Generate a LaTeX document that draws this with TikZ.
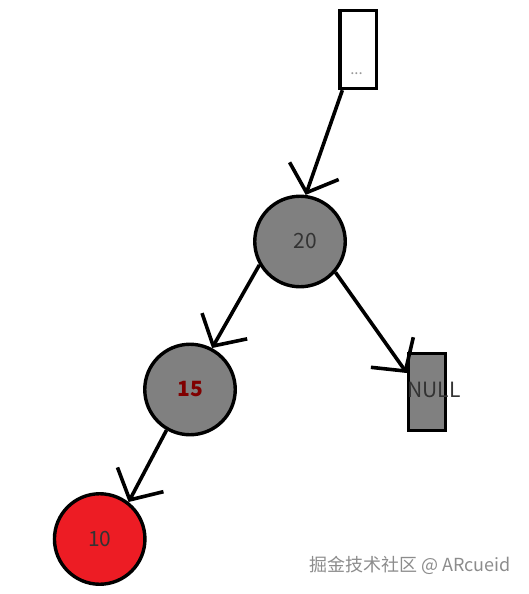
\documentclass[tikz,border=0pt]{standalone}
\usepackage{fontspec}
\setmainfont{Noto Sans CJK SC}
\usetikzlibrary{arrows.meta}
\definecolor{nodegray}{RGB}{128,128,128}
\definecolor{nodered}{RGB}{237,28,36}
\definecolor{numred}{RGB}{128,0,0}
\newcommand{\numfont}{\fontsize{21}{21}\selectfont}

\begin{document}
\begin{tikzpicture}[x=1pt,y=-1pt]
                        \tikzstyle{tnode}=[circle,draw=black,line width=3.4pt,minimum size=90.5pt,inner sep=0pt,font=\numfont,text=black!80]
                        \tikzstyle{tbox}=[rectangle,draw=black,line width=3.4pt,inner sep=0pt]
                        \tikzstyle{link}=[line width=3.6pt,-{Straight Barb[length=23pt,width=52pt,line width=3.6pt]}]
                        \useasboundingbox (0,0) rectangle (528,594);
                        \node[tbox,fill=white,minimum width=36.5pt,minimum height=78pt] (top) at (358.3,49.5) {};
                        \node[text=black!40,font=\fontsize{15}{15}\selectfont] (dots) at (356.5,74) {...};
                        \node[tnode,fill=nodegray] (n20) at (300,241.5) {\hspace{10pt}20};
                        \node[tnode,fill=nodegray] (n15) at (190,389.5) {\textcolor{numred}{\textbf{15}}\hspace{22pt}};
                        \node[tnode,fill=nodered] (n10) at (99.7,539) {10};
                        \node[tbox,fill=nodegray,minimum width=37pt,minimum height=77pt] (null) at (427,392) {};
                        \node[text=black!80,font=\numfont] (nulltext) at (434,390) {NULL};
                        \draw[link] ([xshift=4pt]top.south west) -- (n20.83);
                        \draw[link] (n20.210) -- (n15.62);
                        \draw[link] (n20.-41) -- ([yshift=19pt]null.west);
                        \draw[link] (n15.240) -- (n10.52);
                        \node[text=black!45,font=\fontsize{18}{18}\selectfont] (mark) at (410,565) {掘金技术社区 @ ARcueid};
                    \end{tikzpicture}
\end{document}
